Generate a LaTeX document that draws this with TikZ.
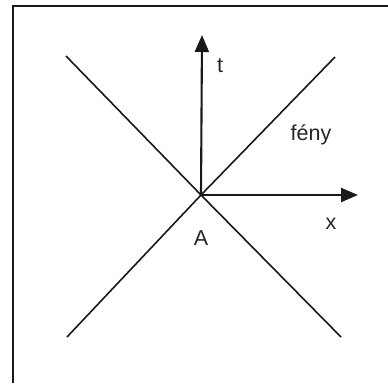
\documentclass[tikz,border=0pt]{standalone}
\usepackage{fontspec}
\setmainfont{Liberation Sans}
\usetikzlibrary{arrows.meta}
\begin{document}
\begin{tikzpicture}[x=1pt,y=-1pt,
  lightline/.style={line width=1.6pt,color=black!90},
  axisline/.style={line width=2.1pt,color=black!90,-{Triangle[length=17pt,width=14pt]}},
  lbl/.style={font=\fontsize{21.5}{24}\selectfont,text=black!85,inner sep=0pt}]
\useasboundingbox (0,0) rectangle (388,383);
\draw[line width=2.2pt,color=black!90] (388,6) -- (13,6) -- (13,383);
\coordinate (O) at (201,195);
\coordinate (tl) at (66,56);
\coordinate (tr) at (335,57);
\coordinate (bl) at (67,337);
\coordinate (br) at (341,337);
\coordinate (tend) at (202,35);
\coordinate (xend) at (358,195);
\draw[lightline] (tl) -- (O) -- (br);
\draw[lightline] (tr) -- (O) -- (bl);
\draw[axisline] (O) -- (tend);
\draw[axisline] (O) -- (xend);
\node[lbl] (t) at (220,66) {t};
\node[lbl] (feny) at (311,135) {fény};
\node[lbl] (x) at (331,224) {x};
\node[lbl] (A) at (201,238) {A};
\end{tikzpicture}
\end{document}
